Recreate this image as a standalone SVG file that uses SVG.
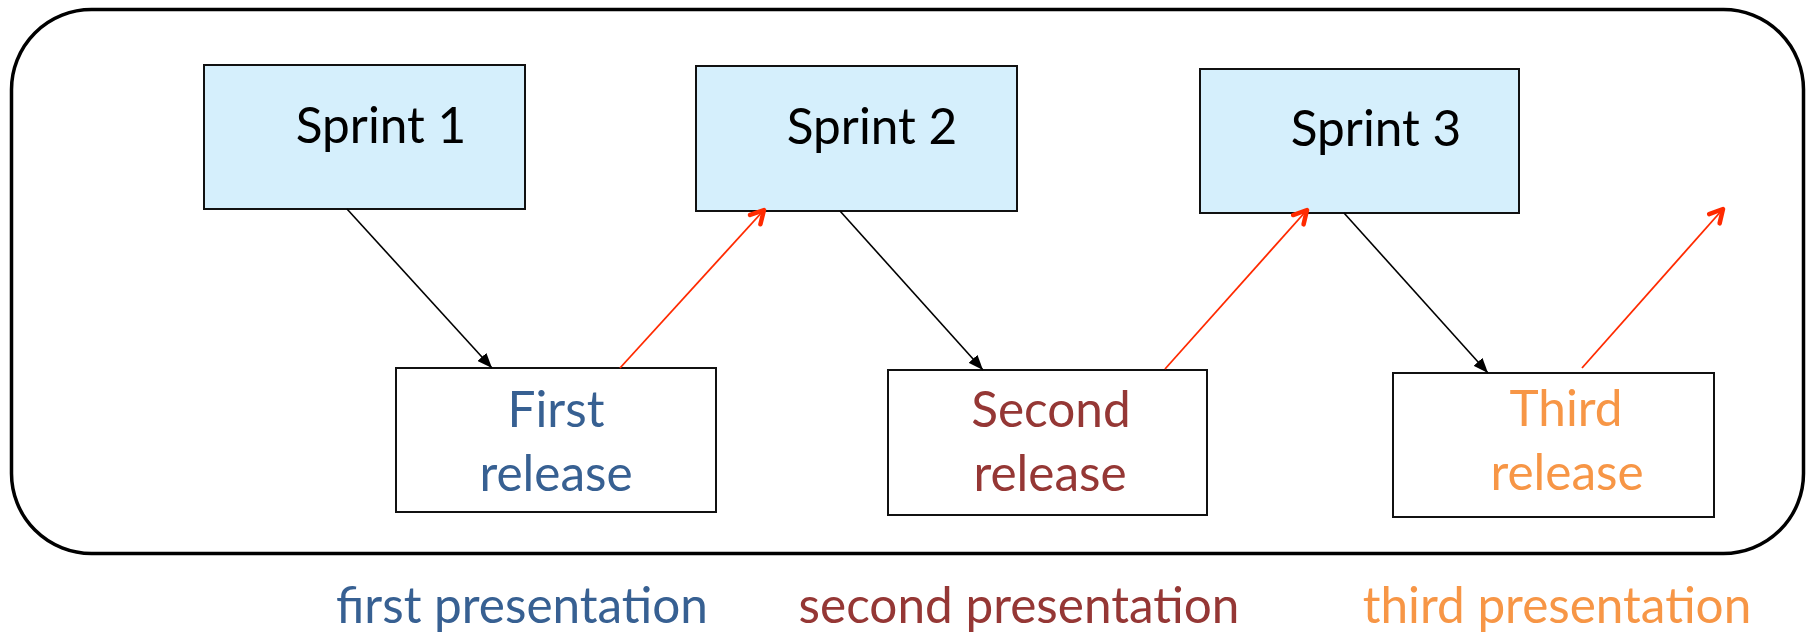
<svg xmlns="http://www.w3.org/2000/svg" width="1810" height="632" viewBox="0 0 1810 632">
<style>
.sprint{fill:#D5EFFC;stroke:#111;stroke-width:2}
.rel{fill:#fff;stroke:#111;stroke-width:2}
text{font-family:Lato,"Liberation Sans",sans-serif;font-size:49.5px;text-anchor:middle}
.k{fill:#000}
.b{fill:#376092}
.r{fill:#953735}
.o{fill:#F79646}
.blk{stroke:#000;stroke-width:1.6;fill:none}
.red{stroke:#FF2A00;stroke-width:1.8;fill:none}
</style>
<defs>
<marker id="ah" markerUnits="userSpaceOnUse" markerWidth="16" markerHeight="12" refX="15" refY="6" orient="auto">
<path d="M0,0 L15,6 L0,12 z" fill="#000"/>
</marker>
<marker id="av" markerUnits="userSpaceOnUse" markerWidth="20" markerHeight="20" refX="16" refY="10" orient="auto">
<path d="M3,3 L16,10 L3,17" fill="none" stroke="#FF2A00" stroke-width="4.5" stroke-linecap="round" stroke-linejoin="round"/>
</marker>
</defs>
<rect id="frame" x="11.5" y="9.5" width="1792" height="544" rx="80" ry="80" fill="#fff" stroke="#000" stroke-width="3.5"/>
<g id="sprint1"><rect class="sprint" x="204" y="65" width="321" height="144"/><text class="k" x="381" y="143">Sprint 1</text></g>
<g id="sprint2"><rect class="sprint" x="696" y="66" width="321" height="145"/><text class="k" x="872" y="144">Sprint 2</text></g>
<g id="sprint3"><rect class="sprint" x="1200" y="69" width="319" height="144"/><text class="k" x="1376" y="146">Sprint 3</text></g>
<g id="release1"><rect class="rel" x="396" y="368" width="320" height="144"/><text class="b" x="556" y="427">First</text><text class="b" x="556" y="491">release</text></g>
<g id="release2"><rect class="rel" x="888" y="370" width="319" height="145"/><text class="r" x="1051" y="427">Second</text><text class="r" x="1050" y="491">release</text></g>
<g id="release3"><rect class="rel" x="1393" y="373" width="321" height="144"/><text class="o" x="1566" y="426">Third</text><text class="o" x="1567" y="490">release</text></g>
<g id="connectors">
<line class="blk" x1="347" y1="209" x2="492" y2="368" marker-end="url(#ah)"/>
<line class="red" x1="620" y1="368" x2="764" y2="210" marker-end="url(#av)"/>
<line class="blk" x1="840" y1="211" x2="983" y2="370" marker-end="url(#ah)"/>
<line class="red" x1="1165" y1="369" x2="1307" y2="210" marker-end="url(#av)"/>
<line class="blk" x1="1344" y1="213" x2="1488" y2="373" marker-end="url(#ah)"/>
<line class="red" x1="1582" y1="368" x2="1723" y2="209" marker-end="url(#av)"/>
</g>
<g id="captions">
<text class="b" x="522" y="623">first presentation</text>
<text class="r" x="1019" y="623">second presentation</text>
<text class="o" x="1557" y="623">third presentation</text>
</g>
</svg>
